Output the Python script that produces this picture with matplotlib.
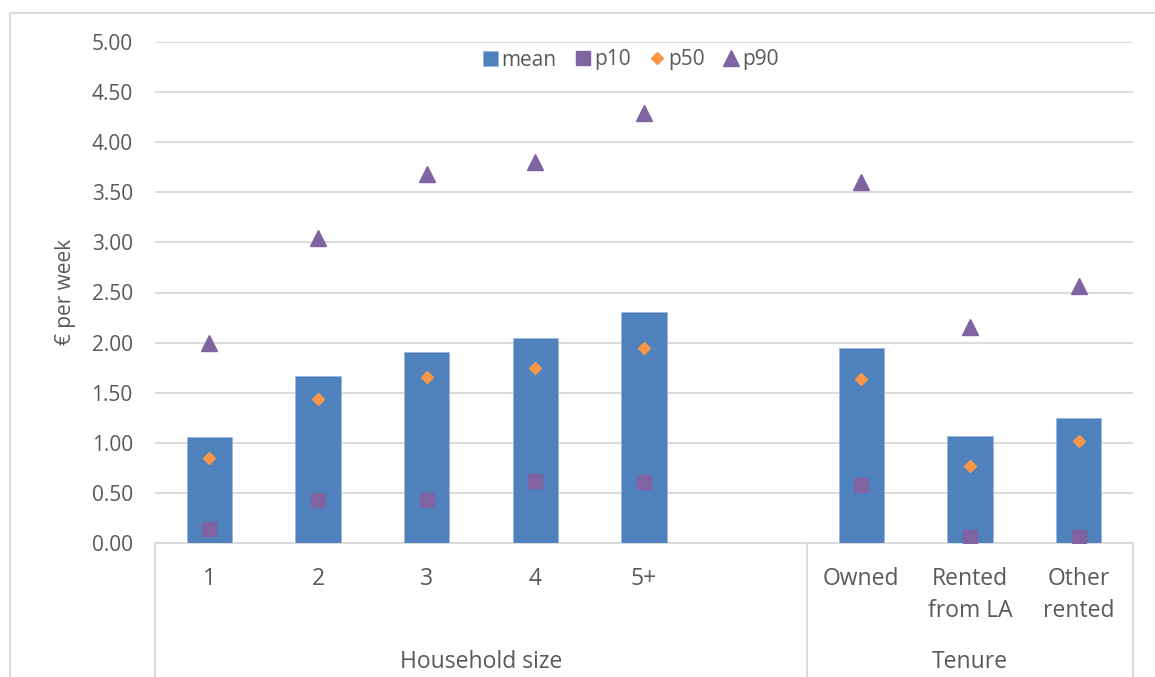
import numpy as np
import matplotlib
matplotlib.use("Agg")
import matplotlib.pyplot as plt
from matplotlib.lines import Line2D
from matplotlib.transforms import blended_transform_factory

plt.rcParams['font.family'] = ['Open Sans', 'DejaVu Sans']

categories = ["1", "2", "3", "4", "5+", "", "Owned", "Rented\nfrom LA", "Other\nrented"]
groups = ["Household size", "Tenure"]
group_spans = [(0, 5), (6, 8)]
mean = [1.06, 1.67, 1.91, 2.05, 2.31, np.nan, 1.95, 1.07, 1.25]
p10 = [0.14, 0.43, 0.43, 0.62, 0.61, np.nan, 0.58, 0.06, 0.06]
p50 = [0.85, 1.44, 1.66, 1.75, 1.95, np.nan, 1.64, 0.77, 1.02]
p90 = [2.00, 3.04, 3.68, 3.80, 4.29, np.nan, 3.60, 2.16, 2.56]
yticks = [0, 0.5, 1, 1.5, 2, 2.5, 3, 3.5, 4, 4.5, 5]

TXT = '#595959'
GRID = '#D9D9D9'
BLUE = '#4F81BD'
PURPLE = '#8064A2'
ORANGE = '#F79646'

W, H = 1155, 677
fig = plt.figure(figsize=(W / 100, H / 100), dpi=100)
ax = fig.add_axes([155 / W, 1 - 543 / H, (1133 - 155) / W, (543 - 42) / H])

x = np.arange(len(categories))
h_mean = ax.bar(x, mean, width=0.415, color=BLUE, edgecolor='#9DB7DD', linewidth=0.6,
                label='mean', zorder=3)
h10, = ax.plot(x, p10, ls='none', marker='s', ms=9.4, color=PURPLE, label='p10', zorder=4)
h50, = ax.plot(x, p50, ls='none', marker='D', ms=6.6, color=ORANGE, label='p50', zorder=4)
h90, = ax.plot(x, p90, ls='none', marker='^', ms=11.3, color=PURPLE, label='p90', zorder=4)

ax.set_xlim(-0.5, len(categories) - 0.5)
ax.set_ylim(0, 5)
ax.set_yticks(yticks)
ax.set_yticklabels([f"{v:.2f}" for v in yticks], color=TXT, fontsize=15)
ax.tick_params(axis='y', length=0, pad=16)
ax.set_xticks([])
ax.yaxis.grid(True, color=GRID, lw=1.3, zorder=0)
ax.set_axisbelow(True)
for s in ['top', 'right', 'left']:
    ax.spines[s].set_visible(False)
ax.spines['bottom'].set_color(GRID)
ax.spines['bottom'].set_linewidth(1.3)

# category labels (multi-level axis)
tr = blended_transform_factory(ax.transData, ax.transAxes)
ax_h = 543 - 42
for xi, lab in zip(x, categories):
    ax.text(xi, (543 - 567) / ax_h, lab, transform=tr, ha='center', va='top',
            fontsize=16.5, color=TXT, linespacing=1.45, clip_on=False)
for (a, b), g in zip(group_spans, groups):
    ax.text((a + b) / 2, (543 - 662) / ax_h, g, transform=tr, ha='center', va='center',
            fontsize=16.5, color=TXT, clip_on=False)

# separators of the category axis
seps = [-0.5, group_spans[0][1] + 0.5, len(categories) - 0.5]
for sx in seps:
    ax.add_line(Line2D([sx, sx], [0, -0.3], transform=tr, color=GRID, lw=1.3,
                       clip_on=False))

# legend
leg = ax.legend(handles=[h_mean, h10, h50, h90],
                loc='center', bbox_to_anchor=((631 - 155) / 978, (543 - 60) / ax_h),
                ncol=4, frameon=False, fontsize=15, handlelength=0.7,
                handletextpad=0.2, columnspacing=0.9, borderpad=0)
for t in leg.get_texts():
    t.set_color(TXT)

fig.text(65 / W, 1 - 292 / H, "€ per week", rotation=90, ha='center', va='center',
         fontsize=15, color=TXT)

# chart area border (partly cropped)
fig.add_artist(Line2D([10 / W, 1], [1 - 13 / H, 1 - 13 / H], transform=fig.transFigure,
                      color=GRID, lw=1.3))
fig.add_artist(Line2D([10 / W, 10 / W], [0, 1 - 13 / H], transform=fig.transFigure,
                      color=GRID, lw=1.3))

fig.savefig('out.png', dpi=100)
